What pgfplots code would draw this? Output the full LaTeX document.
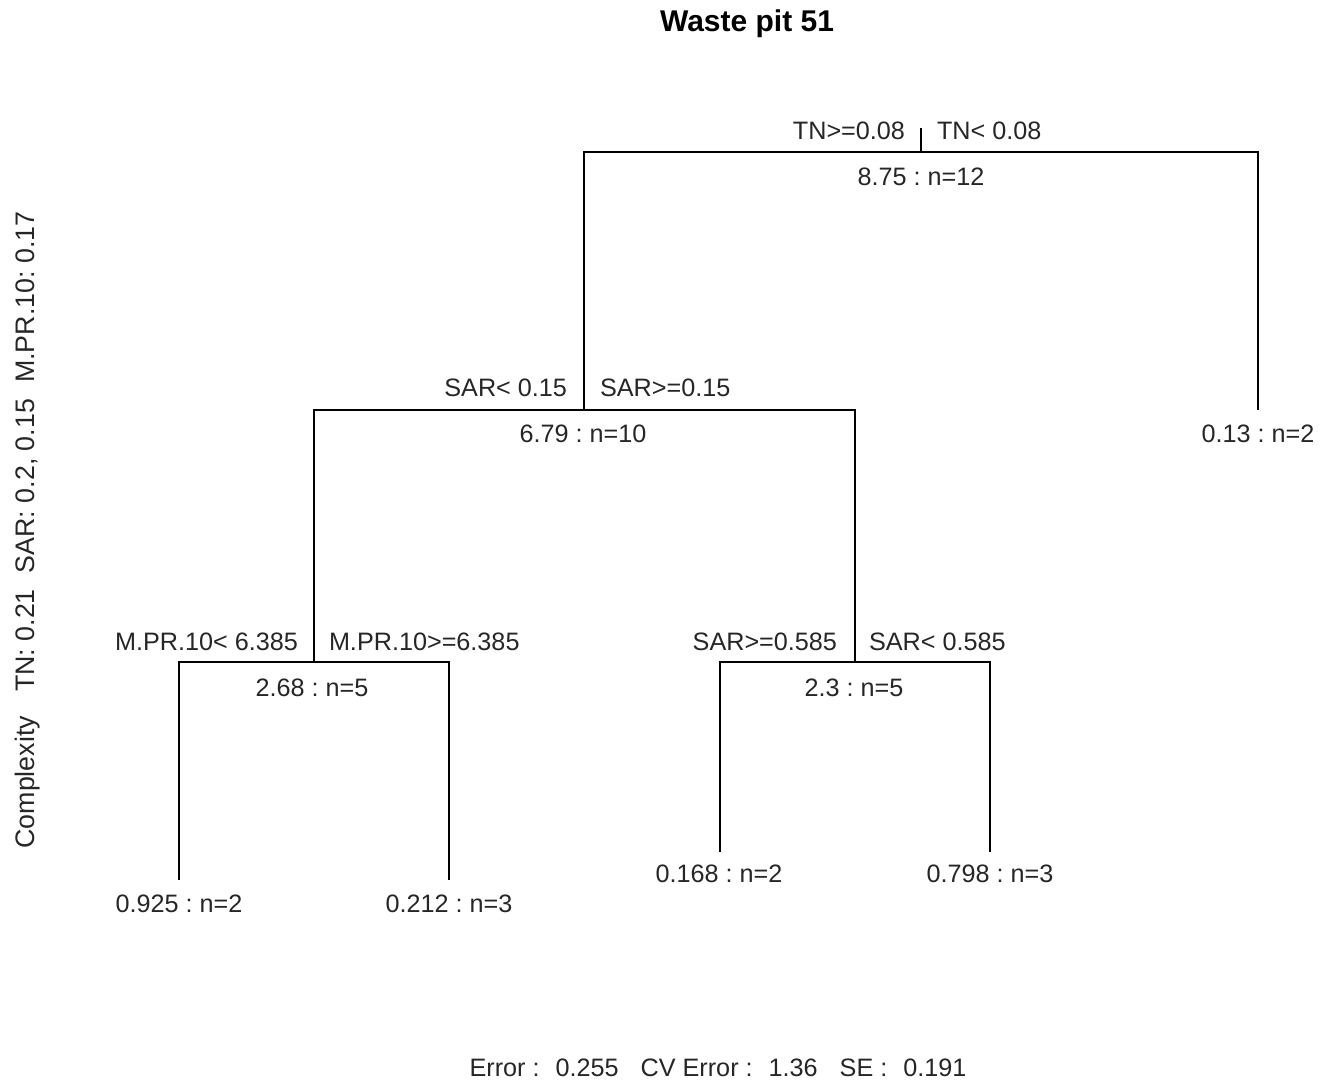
\documentclass[border=0pt]{standalone}
\usepackage{pgfplots}
\pgfplotsset{compat=1.18}
\usepackage{fontspec}
\setmainfont{Liberation Sans}
\begin{document}
\frenchspacing
\fontsize{12.6pt}{15pt}\selectfont
\begin{tikzpicture}
\begin{axis}[
  width=660.5pt, height=543pt, scale only axis,
  xmin=0, xmax=1321, ymin=0, ymax=1086, y dir=reverse,
  axis lines=none, clip=false,
  unbounded coords=jump,
]
\draw[draw=none] (axis cs:0,0) rectangle (axis cs:1321,1086);
% root
\addplot[black, line width=0.7pt, mark=none] coordinates {(921,128) (921,152)};
\addplot[black, line width=0.7pt, mark=none] coordinates {(584,410) (584,152) (1258,152) (1258,410)};
% node 2
\addplot[black, line width=0.7pt, mark=none] coordinates {(314,662) (314,410) (855,410) (855,662)};
% node 4
\addplot[black, line width=0.7pt, mark=none] coordinates {(179,880) (179,662) (449,662) (449,880)};
% node 5
\addplot[black, line width=0.7pt, mark=none] coordinates {(720,852) (720,662) (990,662) (990,852)};

\begin{scope}[every node/.style={inner sep=0pt, outer sep=0pt, text=black!85}]
% root labels
\node[anchor=base east] at (axis cs:905,140) {TN>=0.08};
\node[anchor=base west] at (axis cs:937,140) {TN< 0.08};
\node[anchor=base] at (axis cs:921,185) {8.75 : n=12};
% node 2
\node[anchor=base east] at (axis cs:567,396) {SAR< 0.15};
\node[anchor=base west] at (axis cs:600,396) {SAR>=0.15};
\node[anchor=base] at (axis cs:583,442) {6.79 : n=10};
\node[anchor=base] at (axis cs:1258,442) {0.13 : n=2};
% node 4
\node[anchor=base east] at (axis cs:298,650) {M.PR.10< 6.385};
\node[anchor=base west] at (axis cs:329,650) {M.PR.10>=6.385};
\node[anchor=base] at (axis cs:312,696) {2.68 : n=5};
% node 5
\node[anchor=base east] at (axis cs:837,650) {SAR>=0.585};
\node[anchor=base west] at (axis cs:869,650) {SAR< 0.585};
\node[anchor=base] at (axis cs:854,696) {2.3 : n=5};
% leaves
\node[anchor=base] at (axis cs:179,912) {0.925 : n=2};
\node[anchor=base] at (axis cs:449,912) {0.212 : n=3};
\node[anchor=base] at (axis cs:719,882) {0.168 : n=2};
\node[anchor=base] at (axis cs:990,882) {0.798 : n=3};
% title and margins
\node[anchor=center, text=black, font=\fontsize{15pt}{18pt}\selectfont\bfseries] at (axis cs:747,24) {Waste pit 51};
\node[anchor=center, rotate=90, font=\fontsize{13.4pt}{16pt}\selectfont] at (axis cs:28,530) {Complexity\hspace{12pt}TN: 0.21\hspace{8pt}SAR: 0.2, 0.15\hspace{8pt}M.PR.10: 0.17};
\node[anchor=center] at (axis cs:718,1068) {Error :\hspace{8pt}0.255\hspace{11pt}CV Error :\hspace{8pt}1.36\hspace{11pt}SE :\hspace{8pt}0.191};
\end{scope}
\end{axis}
\end{tikzpicture}
\end{document}
